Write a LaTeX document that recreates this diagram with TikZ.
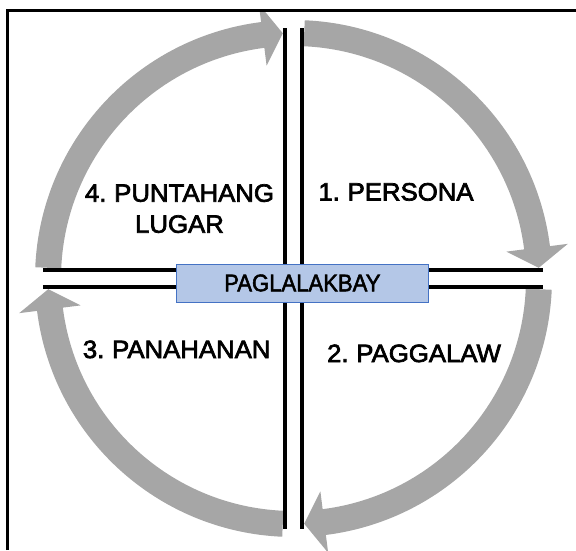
\documentclass[tikz,border=0pt]{standalone}
\usepackage{fontspec}
\setmainfont{Liberation Sans}
\newfontfamily\widefont[FakeStretch=1.03,FakeBold=2.8,WordSpace=0.75]{Liberation Sans}
\newfontfamily\hubfont[FakeStretch=0.92,FakeBold=2.2]{Liberation Sans}
\definecolor{ringgray}{RGB}{166,166,166}
\definecolor{boxfill}{RGB}{180,199,231}
\definecolor{boxedge}{RGB}{68,114,196}
\begin{document}
\begin{tikzpicture}[x=1pt,y=1pt,
  ring/.style={fill=ringgray},
  bar/.style={line width=4pt,black},
  quad/.style={font=\widefont\fontsize{25}{31}\selectfont, anchor=base, align=center, inner sep=0pt},
  hub/.style={draw=boxedge, line width=0.8pt, fill=boxfill, minimum width=251.3pt, minimum height=38pt, inner sep=0pt, font=\hubfont\fontsize{24}{27}\selectfont},
  frame/.style={line width=2.5pt}]
\useasboundingbox (-293.5,-271.5) rectangle (282.5,278.5);
% cycle arrows
\begin{scope}
\clip (-286.2,-271.5) rectangle (282.5,268);
\foreach \a in {87.5,-2.5,-92.5,177.5}{
  \pgfmathsetmacro\b{\a-80.3}
  \pgfmathsetmacro\t{\a-85}
  \fill[ring] (\a:258.5pt) arc[start angle=\a, end angle=\b, radius=258.5pt]
     -- (\b:276.5pt) -- (\t:245.5pt) -- (\b:214.5pt) -- (\b:232.5pt)
     arc[start angle=\b, end angle=\a, radius=232.5pt] -- cycle;
}
\end{scope}
% frame
\coordinate (fbl) at (-286.2,-271.5);
\coordinate (ftl) at (-286.2,268);
\coordinate (ftr) at (282.5,268);
\draw[frame] (fbl) -- (ftl) -- (ftr);
% cross
\coordinate (vlt) at (-8.3,250.5);
\coordinate (vlb) at (-8.3,-250.5);
\coordinate (vrt) at (8.3,250.5);
\coordinate (vrb) at (8.3,-250.5);
\coordinate (hul) at (-250.5,8.3);
\coordinate (hur) at (249.5,8.3);
\coordinate (hdl) at (-250.5,-8.3);
\coordinate (hdr) at (249.5,-8.3);
\draw[bar] (vlt) -- (vlb);
\draw[bar] (vrt) -- (vrb);
\draw[bar] (hul) -- (hur);
\draw[bar] (hdl) -- (hdr);
% hub
\node[hub] (hub) at (8.85,-4.5) {PAGLALAKBAY};
% quadrant labels
\node[quad] (q1) at (102.5,78) {1. PERSONA};
\node[quad] (q2) at (120.5,-83.5) {2. PAGGALAW};
\node[quad] (q3) at (-116.8,-79.5) {3. PANAHANAN};
\node[quad] (q4) at (-114,45.8) {4. PUNTAHANG\\LUGAR};
\end{tikzpicture}
\end{document}
